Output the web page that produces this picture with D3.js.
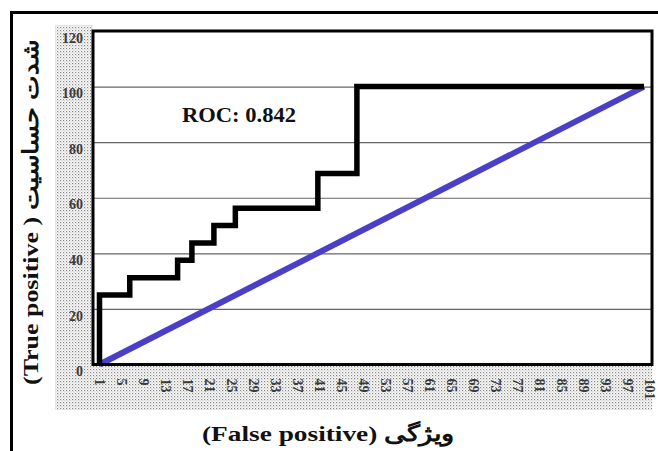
<!DOCTYPE html>
<html><head><meta charset="utf-8">
<script src="https://cdn.jsdelivr.net/npm/d3@7"></script>
<style>
html,body{margin:0;padding:0;background:#fff;}
svg{display:block;}
</style></head>
<body>
<svg id="chart" width="658" height="451"></svg>
<script>
// ---- data ----
const yTicks = [0, 20, 40, 60, 80, 100, 120];
const xTicks = [1,5,9,13,17,21,25,29,33,37,41,45,49,53,57,61,65,69,73,77,81,85,89,93,97,101];
// ROC step curve (x = false-positive category, y = true positive %)
const rocX = [1, 1, 6.5, 6.5, 15.2, 15.2, 17.8, 17.8, 21.8, 21.8, 25.7, 25.7, 40.7, 40.7, 47.8, 47.8, 100];
const rocY = [0, 25, 25, 31.25, 31.25, 37.5, 37.5, 43.75, 43.75, 50, 50, 56.25, 56.25, 68.75, 68.75, 100, 100];
// reference diagonal
const diagX = [1, 100];
const diagY = [0, 100];
const rocLabel = "ROC: 0.842";
const yTitle = "(True positive ) شدت حساسیت";
const xTitle = "(False positive) ویژگی";

const svg = d3.select("#chart");
const L = 93, R = 652, T = 31, B = 364.5;
const x = d3.scaleLinear().domain([1, 101]).range([99.5, 649.5]);
const y = d3.scaleLinear().domain([0, 120]).range([B, T]);

// stipple pattern
const defs = svg.append("defs");
const pat = defs.append("pattern").attr("id","dots").attr("width",3).attr("height",3).attr("patternUnits","userSpaceOnUse");
pat.append("rect").attr("width",3).attr("height",3).attr("fill","#fafafa");
pat.append("rect").attr("x",0).attr("y",0).attr("width",1.2).attr("height",1.2).attr("fill","#888");
pat.append("rect").attr("x",1.5).attr("y",1.5).attr("width",1).attr("height",1).attr("fill","#aaa");

// outer frame
svg.append("path").attr("d","M11.5,451 L11.5,12.5 L658,12.5").attr("fill","none").attr("stroke","#000").attr("stroke-width",3);

// stippled strips
svg.append("rect").attr("x",55).attr("y",25).attr("width",L-55).attr("height",410-25).attr("fill","url(#dots)");
svg.append("rect").attr("x",55).attr("y",B).attr("width",R-55).attr("height",410-B).attr("fill","url(#dots)");

// plot area
svg.append("rect").attr("x",L).attr("y",T).attr("width",R-L).attr("height",B-T).attr("fill","#fff");

// gridlines
const grid = svg.append("g").attr("transform",`translate(${L},0)`)
  .call(d3.axisLeft(y).tickValues(yTicks.filter(v=>v>0 && v<120)).tickSize(-(R-L)).tickFormat(""));
grid.select(".domain").remove();
grid.selectAll("line").attr("stroke","#666").attr("stroke-width",1.2);

// y axis labels
const ya = svg.append("g").attr("transform",`translate(${L},0)`)
  .call(d3.axisLeft(y).tickValues(yTicks).tickSize(0).tickPadding(10));
ya.select(".domain").remove();
ya.selectAll("text").attr("font-family","Liberation Serif").attr("font-size",14).attr("font-weight","bold").attr("fill","#3a3a3a").attr("dy","0.8em");

// x axis labels
const xa = svg.append("g").attr("transform",`translate(0,${B})`)
  .call(d3.axisBottom(x).tickValues(xTicks).tickSize(0));
xa.select(".domain").remove();
xa.selectAll("text")
  .attr("font-family","Liberation Serif").attr("font-size",14).attr("font-weight","bold").attr("fill","#3a3a3a")
  .attr("transform","rotate(90)").attr("x",14).attr("y",0).attr("dy","0.35em").attr("text-anchor","start");

// diagonal
const line = d3.line().x(d=>x(d[0])).y(d=>y(d[1]));
svg.append("path").datum(d3.zip(diagX, diagY)).attr("d",line)
  .attr("fill","none").attr("stroke","#4a3fc6").attr("stroke-width",6);

// ROC step
svg.append("path").datum(d3.zip(rocX, rocY)).attr("d",line)
  .attr("fill","none").attr("stroke","#000").attr("stroke-width",5.5).attr("stroke-linejoin","miter");

// plot border
svg.append("rect").attr("x",L).attr("y",T).attr("width",R-L).attr("height",B-T).attr("fill","none").attr("stroke","#000").attr("stroke-width",3);

// ROC label
svg.append("text").attr("x",182).attr("y",122).text(rocLabel)
  .attr("font-family","Liberation Serif").attr("font-weight","bold").attr("font-size",22)
  .attr("textLength",114).attr("lengthAdjust","spacingAndGlyphs").attr("fill","#111");

// y title
svg.append("text").attr("transform","translate(38,385) rotate(-90)").text(yTitle)
  .attr("font-family","Liberation Serif").attr("font-weight","bold").attr("font-size",22)
  .attr("direction","ltr").attr("textLength",345).attr("lengthAdjust","spacingAndGlyphs").attr("fill","#111");

// x title
svg.append("text").attr("x",202).attr("y",441).text(xTitle)
  .attr("font-family","Liberation Serif").attr("font-weight","bold").attr("font-size",22)
  .attr("direction","ltr").attr("textLength",253).attr("lengthAdjust","spacingAndGlyphs").attr("fill","#111");
</script>
</body></html>
